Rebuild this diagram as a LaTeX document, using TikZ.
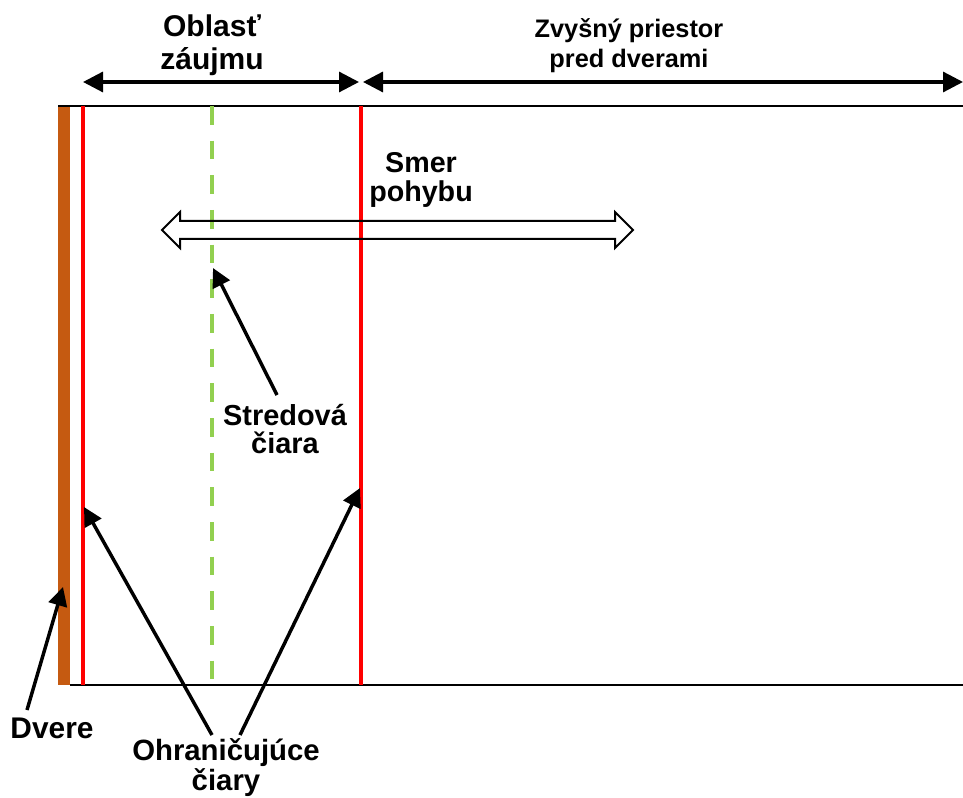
\documentclass[tikz,border=0pt]{standalone}
\usepackage{fontspec}
\setmainfont{Liberation Sans}
\usetikzlibrary{arrows.meta}
\definecolor{doorbrown}{HTML}{C55A11}
\definecolor{boundred}{HTML}{FF0000}
\definecolor{midgreen}{HTML}{92D050}
\begin{document}
\begin{tikzpicture}[x=0.75pt,y=-0.75pt,
  lbl/.style={font=\bfseries, align=center, inner sep=0pt, anchor=base},
  edge/.style={line width=1.4pt},
  bound/.style={boundred, line width=3pt},
  dim/.style={line width=2.4pt, {Triangle[length=15pt,width=15pt]}-{Triangle[length=15pt,width=15pt]}},
  callout/.style={line width=2.6pt, -{Triangle[length=14pt,width=14pt]}},
  motion/.style={line width=1.5pt, draw=black, miter limit=10}]
\useasboundingbox (0,0) rectangle (963,798);

% door leaf and walkway edges
\fill[doorbrown] (58,106) rectangle (70,685);
\draw[edge] (58,106) -- (963,106);
\draw[edge] (70,685) -- (963,685);

% boundary lines and centre line
\draw[bound] (83,106) coordinate (lbTop) -- (83,685) coordinate (lbBot);
\draw[bound] (361,106) coordinate (rbTop) -- (361,685) coordinate (rbBot);
\draw[midgreen, line width=3.4pt, dash pattern=on 14pt off 12pt] (212,106) -- (212,685);

% direction of motion (hollow double arrow)
\draw[motion] (162,230) -- (180,212) -- (180,221) -- (615,221) -- (615,212)
  -- (633,230) -- (615,248) -- (615,239) -- (180,239) -- (180,248) -- cycle;

% dimension arrows
\coordinate (zoneL) at (83,82);
\coordinate (zoneR) at (359,82);
\coordinate (restL) at (363,82);
\coordinate (restR) at (963,82);
\draw[dim] (zoneL) -- (zoneR);
\draw[dim] (restL) -- (restR);

% labels (anchored at the baseline of the last line)
\node[lbl, font=\fontsize{22.5}{24.75}\selectfont\bfseries] (zone) at (212,70) {Oblasť\\záujmu};
\node[lbl, font=\fontsize{19}{22.5}\selectfont\bfseries] (rest) at (629,68) {Zvyšný priestor\\pred dverami};
\node[lbl, font=\fontsize{21.5}{21.75}\selectfont\bfseries] (motionlbl) at (421,202) {Smer\\pohybu};
\node[lbl, font=\fontsize{21.7}{21}\selectfont\bfseries] (centre) at (285,453) {Stredová\\čiara};
\node[lbl, font=\fontsize{22.4}{24}\selectfont\bfseries] (door) at (52,738) {Dvere};
\node[lbl, font=\fontsize{22}{20.25}\selectfont\bfseries] (bounds) at (226,790) {Ohraničujúce\\čiary};

% callout arrows
\coordinate (centreFrom) at (277,395);
\coordinate (centreTip) at (213,268);
\coordinate (doorFrom) at (27,710);
\coordinate (doorTip) at (63,587);
\coordinate (boundsFromL) at (212,735);
\coordinate (boundsTipL) at (84,507);
\coordinate (boundsFromR) at (240,735);
\coordinate (boundsTipR) at (360,488);
\draw[callout] (centreFrom) -- (centreTip);
\draw[callout] (doorFrom) -- (doorTip);
\draw[callout] (boundsFromL) -- (boundsTipL);
\draw[callout] (boundsFromR) -- (boundsTipR);
\end{tikzpicture}
\end{document}
